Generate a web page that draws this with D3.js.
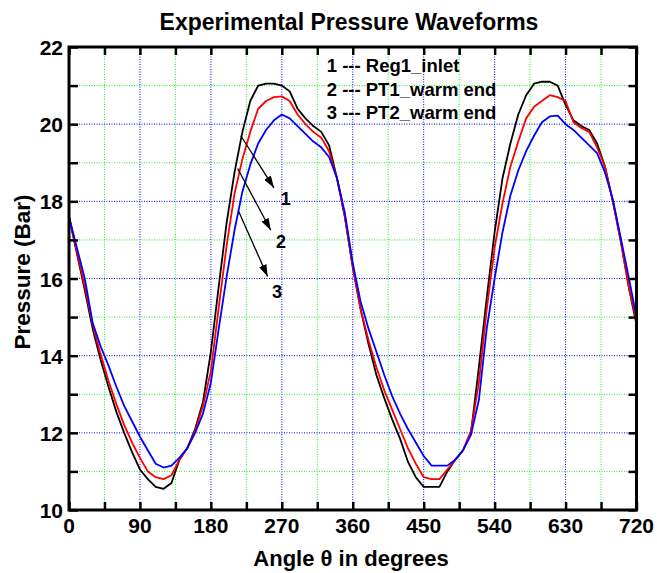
<!DOCTYPE html>
<html>
<head>
<meta charset="utf-8">
<script src="https://cdn.jsdelivr.net/npm/d3@7"></script>
<style>
  body { margin: 0; background: #fff; }
  text { font-family: "Liberation Sans", Arial, sans-serif; font-weight: bold; }
</style>
</head>
<body>
<div id="chart"></div>
<script>
const widthValue = 657;
const heightValue = 573;
const margin = {top: 47, right: 20.5, bottom: 63, left: 69};

// sampled crank angle (degrees)
const angles = [0,10,20,30,40,50,60,70,80,90,100,110,120,130,140,150,160,170,180,
  190,200,210,220,230,240,250,260,270,280,290,300,310,320,330,340,350,360,
  370,380,390,400,410,420,430,440,450,460,470,480,490,500,510,520,530,540,
  550,560,570,580,590,600,610,620,630,640,650,660,670,680,690,700,710,720];

// 1 --- Reg1_inlet
const reg1Inlet = [17.6,16.65,15.7,14.7,13.9,13.2,12.55,12.0,11.5,11.05,10.8,10.6,10.55,10.7,11.3,11.6,12.1,12.8,14.1,
  15.8,17.45,18.75,19.8,20.6,21.0,21.05,21.05,21.0,20.85,20.4,20.15,19.95,19.8,19.45,18.6,17.6,16.3,
  15.2,14.3,13.5,12.9,12.35,11.85,11.25,10.85,10.6,10.6,10.6,11.0,11.3,11.55,12.0,13.7,15.5,17.2,
  18.6,19.5,20.25,20.75,21.05,21.1,21.1,21.0,20.5,20.1,19.95,19.85,19.5,18.9,18.0,17.0,15.8,14.8];

// 2 --- PT1_warm end
const pt1Warm = [17.6,16.7,15.8,14.8,14.05,13.35,12.75,12.2,11.75,11.35,11.0,10.85,10.8,10.9,11.3,11.6,12.05,12.7,13.6,
  15.25,16.85,18.2,19.1,19.8,20.4,20.6,20.7,20.72,20.6,20.25,20.0,19.8,19.65,19.3,18.6,17.6,16.3,
  15.2,14.4,13.7,13.1,12.6,12.1,11.6,11.2,10.85,10.8,10.8,11.05,11.3,11.55,12.05,13.3,15.2,16.8,
  17.95,18.9,19.55,20.15,20.45,20.6,20.75,20.7,20.6,20.05,19.9,19.8,19.4,18.9,18.0,16.95,15.8,14.9];

// 3 --- PT2_warm end
const pt2Warm = [17.6,16.8,16.0,14.85,14.25,13.75,13.2,12.7,12.3,11.9,11.55,11.2,11.1,11.15,11.35,11.6,12.0,12.5,13.3,
  14.7,16.05,17.25,18.25,18.95,19.5,19.85,20.1,20.25,20.15,19.95,19.75,19.55,19.4,19.15,18.6,17.7,16.4,
  15.4,14.7,14.1,13.5,12.95,12.5,12.1,11.75,11.4,11.15,11.15,11.15,11.3,11.55,11.95,12.85,14.7,16.0,
  17.2,18.15,18.8,19.3,19.7,20.05,20.2,20.22,20.0,19.85,19.65,19.45,19.25,18.75,18.05,17.05,16.05,15.0];

const seriesNames = ["Reg1_inlet", "PT1_warm end", "PT2_warm end"];
const seriesColors = ["#000000", "#ff0000", "#0000ff"];

const xTickLabels = [0, 90, 180, 270, 360, 450, 540, 630, 720];
const yTickLabels = [10, 12, 14, 16, 18, 20, 22];

// arrow annotations in data units: from curve to label
const callouts = [
  {label: "1", x1: 218, y1: 19.7, x2: 260, y2: 18.35, tx: 275, ty: 17.9},
  {label: "2", x1: 214, y1: 18.85, x2: 256, y2: 17.25, tx: 269, ty: 16.8},
  {label: "3", x1: 215, y1: 17.75, x2: 252, y2: 16.05, tx: 264, ty: 15.5}
];

const svg = d3.select("#chart")
  .append("svg")
  .attr("width", widthValue)
  .attr("height", heightValue);

var x = d3.scaleLinear()
  .domain([0, 720])
  .range([margin.left, widthValue - margin.right]);
var y = d3.scaleLinear()
  .domain([10, 22])
  .range([heightValue - margin.bottom, margin.top]);

// grid: blue at major, green at minor
const xGrid = d3.range(45, 720, 45);
const yGrid = d3.range(11, 22, 1);

svg.append("g").selectAll("line")
  .data(xGrid)
  .join("line")
  .attr("x1", d => x(d)).attr("x2", d => x(d))
  .attr("y1", y(10)).attr("y2", y(22))
  .attr("stroke", d => d % 90 === 0 ? "#0000ff" : "#22ee22")
  .attr("stroke-width", 1)
  .attr("stroke-dasharray", "1,1.5");

svg.append("g").selectAll("line")
  .data(yGrid)
  .join("line")
  .attr("x1", x(0)).attr("x2", x(720))
  .attr("y1", d => y(d)).attr("y2", d => y(d))
  .attr("stroke", d => d % 2 === 0 ? "#0000ff" : "#22ee22")
  .attr("stroke-width", 1)
  .attr("stroke-dasharray", "1,1.5");

// curves
const allSeries = [reg1Inlet, pt1Warm, pt2Warm];
const line = d3.line()
  .x((d, i) => x(angles[i]))
  .y(d => y(d));

svg.append("g").selectAll("path")
  .data(allSeries)
  .join("path")
  .attr("d", d => line(d))
  .attr("fill", "none")
  .attr("stroke", (d, i) => seriesColors[i])
  .attr("stroke-width", 1.8)
  .attr("stroke-linejoin", "round");

// axes with inward ticks
const bottomAxis = d3.axisBottom(x).tickValues(d3.range(0, 721, 45)).tickSizeInner(-8).tickSizeOuter(0).tickFormat("");
const topAxis = d3.axisTop(x).tickValues(d3.range(0, 721, 45)).tickSizeInner(-8).tickSizeOuter(0).tickFormat("");
const leftAxis = d3.axisLeft(y).tickValues(d3.range(10, 23, 1)).tickSizeInner(-9).tickSizeOuter(0).tickFormat("");
const rightAxis = d3.axisRight(y).tickValues(d3.range(10, 23, 1)).tickSizeInner(-8).tickSizeOuter(0).tickFormat("");

function styleAxis(g) {
  g.select(".domain").remove();
  g.selectAll(".tick line").attr("stroke", "#000").attr("stroke-width", 2.5);
}
svg.append("g").attr("transform", `translate(0,${y(10)})`).call(bottomAxis).call(styleAxis);
svg.append("g").attr("transform", `translate(0,${y(22)})`).call(topAxis).call(styleAxis);
svg.append("g").attr("transform", `translate(${x(0)},0)`).call(leftAxis).call(styleAxis);
svg.append("g").attr("transform", `translate(${x(720)},0)`).call(rightAxis).call(styleAxis);

// frame
svg.append("rect")
  .attr("x", x(0)).attr("y", y(22))
  .attr("width", x(720) - x(0)).attr("height", y(10) - y(22))
  .attr("fill", "none")
  .attr("stroke", "#000")
  .attr("stroke-width", 3);

// tick labels
svg.append("g").selectAll("text")
  .data(xTickLabels)
  .join("text")
  .attr("x", d => x(d))
  .attr("y", y(10) + 23)
  .attr("text-anchor", "middle")
  .style("font-size", "21px")
  .text(d => d);

svg.append("g").selectAll("text")
  .data(yTickLabels)
  .join("text")
  .attr("x", x(0) - 6)
  .attr("y", d => y(d) + 8)
  .attr("text-anchor", "end")
  .style("font-size", "21px")
  .text(d => d);

// titles
svg.append("text")
  .attr("x", 349).attr("y", 30)
  .attr("text-anchor", "middle")
  .style("font-size", "23px")
  .text("Experimental Pressure Waveforms");

svg.append("text")
  .attr("x", 351).attr("y", 566)
  .attr("text-anchor", "middle")
  .style("font-size", "22px")
  .text("Angle θ in degrees");

svg.append("text")
  .attr("transform", "translate(30,272) rotate(-90)")
  .attr("text-anchor", "middle")
  .style("font-size", "22.5px")
  .text("Pressure (Bar)");

// legend text
svg.append("g").selectAll("text")
  .data(seriesNames)
  .join("text")
  .attr("x", x(327))
  .attr("y", (d, i) => y(21.35) + i * 23.5)
  .style("font-size", "18.5px")
  .text((d, i) => (i + 1) + " --- " + d);

// arrows
svg.append("defs").append("marker")
  .attr("id", "head")
  .attr("markerUnits", "userSpaceOnUse")
  .attr("viewBox", "0 0 12 8")
  .attr("refX", 12).attr("refY", 4)
  .attr("markerWidth", 12).attr("markerHeight", 8)
  .attr("orient", "auto")
  .append("path")
  .attr("d", "M0,0 L12,4 L0,8 Z")
  .attr("fill", "#000");

const ann = svg.append("g");
ann.selectAll("line")
  .data(callouts)
  .join("line")
  .attr("x1", d => x(d.x1)).attr("y1", d => y(d.y1))
  .attr("x2", d => x(d.x2)).attr("y2", d => y(d.y2))
  .attr("stroke", "#000")
  .attr("stroke-width", 1.3)
  .attr("marker-end", "url(#head)");
ann.selectAll("text")
  .data(callouts)
  .join("text")
  .attr("x", d => x(d.tx)).attr("y", d => y(d.ty))
  .attr("text-anchor", "middle")
  .style("font-size", "18px")
  .text(d => d.label);
</script>
</body>
</html>
